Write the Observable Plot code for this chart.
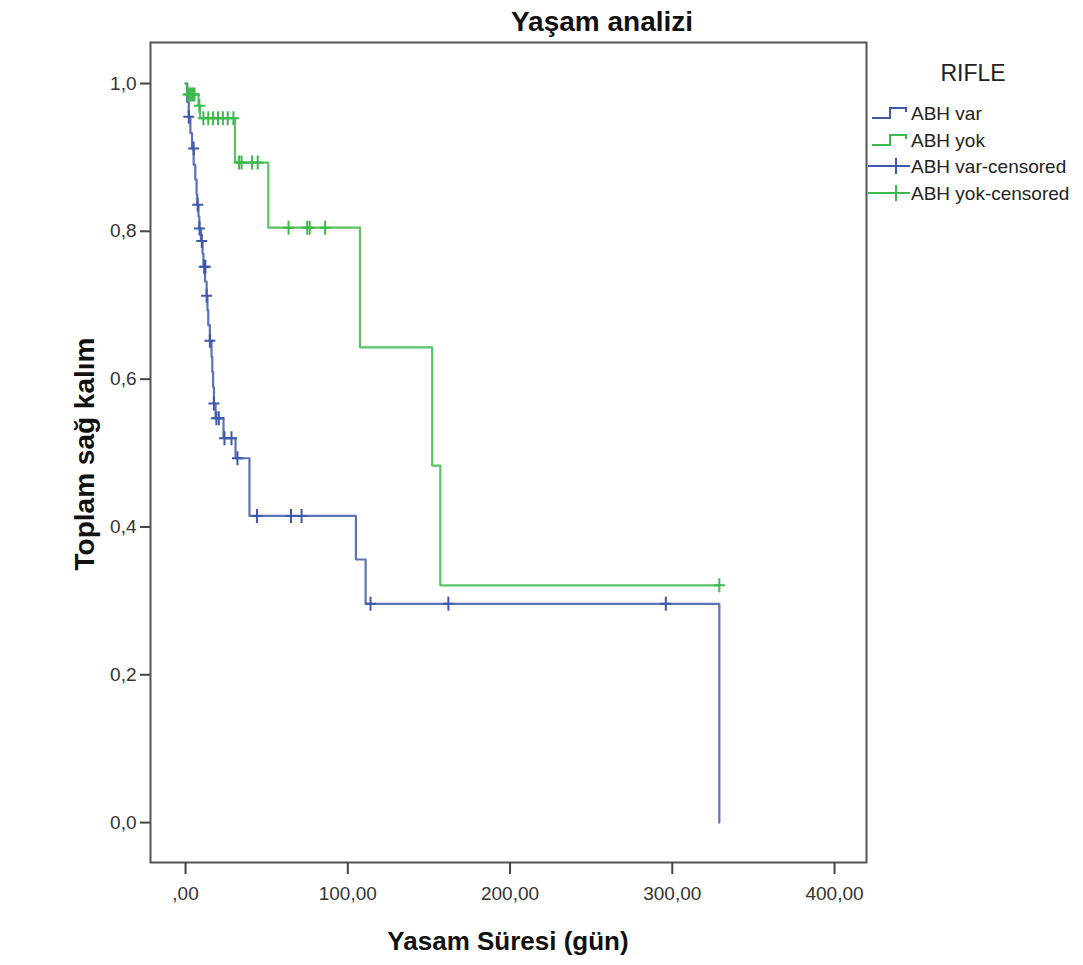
<!DOCTYPE html>
<html>
<head>
<meta charset="utf-8">
<script src="https://cdn.jsdelivr.net/npm/d3@7"></script>
<script src="https://cdn.jsdelivr.net/npm/@observablehq/plot@0.6"></script>
<style>
  html, body { margin: 0; padding: 0; background: #fff; }
  #chart svg { display: block; font-family: Arial, "Liberation Sans", sans-serif; }
</style>
</head>
<body>
<div id="chart"></div>
<script>
// ---- data ----
const groups = ["ABH var", "ABH yok"];
const colors = ["#3E58AC", "#3DB94B"];

// ABH var: step (event) points
const varTime = [0, 1, 2, 3, 4, 5, 6, 6.8, 7.2, 8, 8.5, 9.5, 10.5, 11, 12, 13, 13.5, 14, 15, 16, 16.5, 17, 17.5, 18.5, 23.4, 30.8, 39.4, 105, 111, 329];
const varSurv = [1.0, 0.975, 0.955, 0.933, 0.912, 0.89, 0.87, 0.85, 0.836, 0.82, 0.804, 0.787, 0.77, 0.752, 0.732, 0.713, 0.693, 0.673, 0.652, 0.63, 0.61, 0.589, 0.567, 0.547, 0.52, 0.493, 0.415, 0.356, 0.296, 0.0];
// ABH var: censored
const varCensTime = [2, 5, 7.5, 8.6, 10, 11.5, 12.2, 13, 15, 17.5, 19, 20.5, 24, 28.3, 32, 44, 65, 71.5, 114, 162, 296];
const varCensSurv = [0.955, 0.912, 0.836, 0.804, 0.787, 0.752, 0.752, 0.713, 0.652, 0.567, 0.547, 0.547, 0.52, 0.52, 0.493, 0.415, 0.415, 0.415, 0.296, 0.296, 0.296];

// ABH yok: step (event) points (last point = end of follow-up)
const yokTime = [0, 1, 8, 9, 30.5, 51, 107.5, 152, 157, 329];
const yokSurv = [1.0, 0.985, 0.97, 0.953, 0.893, 0.805, 0.643, 0.483, 0.321, 0.321];
// ABH yok: censored
const yokCensTime = [1.5, 2.5, 3.5, 4.5, 5.5, 8.5, 11, 14, 17, 20, 23, 26, 29.5, 33, 34.5, 41, 44.5, 63.5, 75, 76.5, 86, 329];
const yokCensSurv = [0.985, 0.985, 0.985, 0.985, 0.985, 0.97, 0.953, 0.953, 0.953, 0.953, 0.953, 0.953, 0.953, 0.893, 0.893, 0.893, 0.893, 0.805, 0.805, 0.805, 0.805, 0.321];

const xTicks = [0, 100, 200, 300, 400];
const xTickLabels = [",00", "100,00", "200,00", "300,00", "400,00"];
const yTicks = [0, 0.2, 0.4, 0.6, 0.8, 1.0];
const yTickLabels = ["0,0", "0,2", "0,4", "0,6", "0,8", "1,0"];

const legendTitle = "RIFLE";
const legendLabels = ["ABH var", "ABH yok", "ABH var-censored", "ABH yok-censored"];

// ---- build tables ----
const steps = [
  ...varTime.map((t, i) => ({t, s: varSurv[i], g: groups[0]})),
  ...yokTime.map((t, i) => ({t, s: yokSurv[i], g: groups[1]}))
];
const cens = [
  ...varCensTime.map((t, i) => ({t, s: varCensSurv[i], g: groups[0]})),
  ...yokCensTime.map((t, i) => ({t, s: yokCensSurv[i], g: groups[1]}))
];

// tall, narrow "+" used by SPSS for censored cases
const plusSymbol = {
  draw(ctx) {
    ctx.moveTo(-5.5, 0); ctx.lineTo(5.5, 0);
    ctx.moveTo(0, -7); ctx.lineTo(0, 7);
  }
};

const W = 1083, H = 965;
const font = "Arial, 'Liberation Sans', sans-serif";
const plot = Plot.plot({
  width: W,
  height: H,
  marginLeft: 150,
  marginRight: 217,
  marginTop: 42,
  marginBottom: 103,
  style: {fontSize: "19px", fontFamily: font, color: "#333"},
  x: {domain: [-21.6, 419.7]},
  y: {domain: [-0.054, 1.0555]},
  color: {domain: groups, range: colors},
  marks: [
    Plot.frame({stroke: "#555", strokeWidth: 2}),
    Plot.axisX({ticks: xTicks, tickFormat: d => xTickLabels[xTicks.indexOf(d)], tickSize: 12, tickPadding: 12, stroke: "#444", strokeWidth: 2, fontSize: 19, fill: "#333", label: null}),
    Plot.axisY({ticks: yTicks, tickFormat: d => yTickLabels[yTicks.findIndex(v => Math.abs(v - d) < 1e-9)], tickSize: 10, tickPadding: 4, stroke: "#444", strokeWidth: 2, fontSize: 19, fill: "#333", label: null}),
    Plot.line(steps, {x: "t", y: "s", z: "g", stroke: "g", curve: "step-after", strokeWidth: 2.2, strokeOpacity: 0.85}),
    Plot.dot(cens, {x: "t", y: "s", stroke: "g", symbol: plusSymbol, strokeWidth: 2})
  ]
});
document.getElementById("chart").appendChild(plot);

// ---- titles & legend ----
const svg = d3.select(plot);
svg.append("text").attr("x", 602).attr("y", 31).attr("text-anchor", "middle")
  .attr("font-family", font).attr("font-size", 28).attr("font-weight", "bold").attr("fill", "#111")
  .text("Yaşam analizi");
svg.append("text").attr("x", 508).attr("y", 950).attr("text-anchor", "middle")
  .attr("font-family", font).attr("font-size", 26).attr("font-weight", "bold").attr("fill", "#111")
  .text("Yasam Süresi (gün)");
svg.append("text").attr("transform", "translate(94,454) rotate(-90)").attr("text-anchor", "middle")
  .attr("font-family", font).attr("font-size", 28).attr("font-weight", "bold").attr("fill", "#111")
  .text("Toplam sağ kalım");

const lg = svg.append("g");
lg.append("text").attr("x", 973).attr("y", 81).attr("text-anchor", "middle")
  .attr("font-family", font).attr("font-size", 23).attr("fill", "#222").text(legendTitle);
const rowY = [120, 147, 173, 200];
legendLabels.forEach((lab, i) => {
  const y = rowY[i];
  const c = colors[i % 2];
  if (i < 2) {
    lg.append("path").attr("d", `M872,${y - 2}H890V${y - 12}H906V${y - 8}`)
      .attr("fill", "none").attr("stroke", c).attr("stroke-width", 2);
  } else {
    lg.append("path").attr("d", `M868,${y - 7}H910M896,${y - 15}V${y + 1}`)
      .attr("fill", "none").attr("stroke", c).attr("stroke-width", 2);
  }
  lg.append("text").attr("x", 911).attr("y", y).attr("text-anchor", "start")
    .attr("font-family", font).attr("font-size", 19).attr("fill", "#222").text(lab);
});
</script>
</body>
</html>
